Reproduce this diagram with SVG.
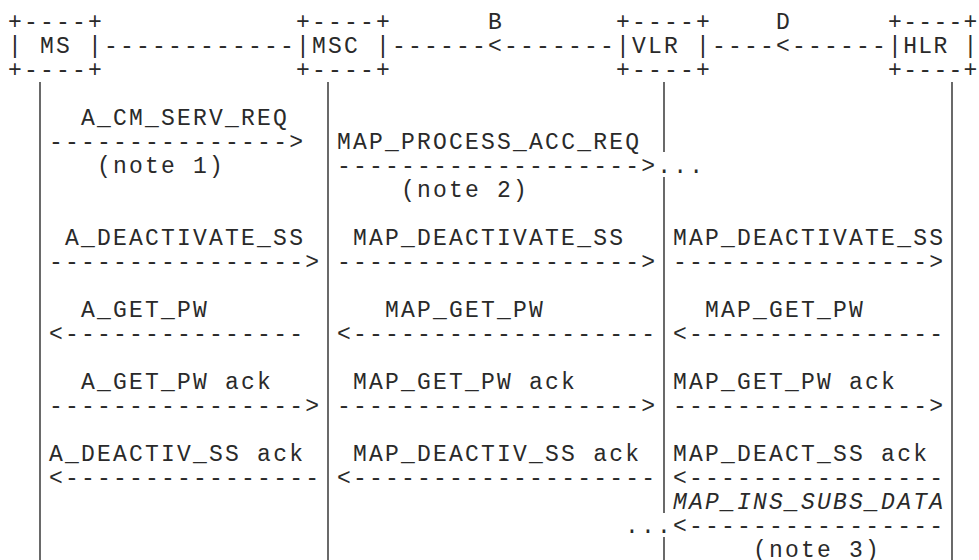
<svg xmlns="http://www.w3.org/2000/svg" width="979" height="560" viewBox="0 0 979 560" xml:space="preserve">
<style>
  text { font-family: "Liberation Mono", "DejaVu Sans Mono", monospace; font-size: 23px; letter-spacing: 2.2px; fill: #2a2a2a; white-space: pre; }
  text.hlr { letter-spacing: 1.3px; }
  .it { font-style: italic; }
  .life { stroke: #2a2a2a; stroke-width: 1.4; fill: none; }
</style>
<rect width="979" height="560" fill="#ffffff"/>

<g id="node-MS">
  <text x="8.1" y="29.3">+----+</text>
  <text x="8.1" y="53.3">| MS |</text>
  <text x="8.1" y="77.3">+----+</text>
  <line class="life" x1="40" y1="82" x2="40" y2="560"/>
</g>

<g id="node-MSC">
  <text x="296.1" y="29.3">+----+</text>
  <text x="296.1" y="53.3">|MSC |</text>
  <text x="296.1" y="77.3">+----+</text>
  <line class="life" x1="328" y1="82" x2="328" y2="560"/>
</g>

<g id="node-VLR">
  <text x="616.1" y="29.3">+----+</text>
  <text x="616.1" y="53.3">|VLR |</text>
  <text x="616.1" y="77.3">+----+</text>
  <line class="life" x1="664" y1="82" x2="664" y2="152"/>
  <line class="life" x1="664" y1="177" x2="664" y2="513"/>
  <line class="life" x1="664" y1="537" x2="664" y2="560"/>
</g>

<g id="node-HLR">
  <text class="hlr" x="888.1" y="29.3">+----+</text>
  <text class="hlr" x="888.1" y="53.3">|HLR |</text>
  <text class="hlr" x="888.1" y="77.3">+----+</text>
  <line class="life" x1="952" y1="82" x2="952" y2="560"/>
</g>

<g id="connectors">
  <!-- interfaces -->
  <text x="104.1" y="53.3">------------</text>
  <text x="488.1" y="29.3">B</text>
  <text x="392.1" y="53.3">------&lt;-------</text>
  <text x="776.1" y="29.3">D</text>
  <text x="712.1" y="53.3">----&lt;------</text>

  <!-- A_CM_SERV_REQ / MAP_PROCESS_ACC_REQ -->
  <text x="81.1" y="125.3">A_CM_SERV_REQ</text>
  <text x="49.1" y="149.3">---------------&gt;</text>
  <text x="337.1" y="149.3">MAP_PROCESS_ACC_REQ</text>
  <text x="97.1" y="173.3">(note 1)</text>
  <text x="337.1" y="173.3">-------------------&gt;...</text>
  <text x="401.1" y="197.3">(note 2)</text>

  <!-- DEACTIVATE_SS -->
  <text x="65.1" y="245.3">A_DEACTIVATE_SS</text>
  <text x="353.1" y="245.3">MAP_DEACTIVATE_SS</text>
  <text x="673.1" y="245.3">MAP_DEACTIVATE_SS</text>
  <text x="49.1" y="269.3">----------------&gt;</text>
  <text x="337.1" y="269.3">-------------------&gt;</text>
  <text x="673.1" y="269.3">----------------&gt;</text>

  <!-- GET_PW -->
  <text x="81.1" y="317.3">A_GET_PW</text>
  <text x="385.1" y="317.3">MAP_GET_PW</text>
  <text x="705.1" y="317.3">MAP_GET_PW</text>
  <text x="49.1" y="341.3">&lt;---------------</text>
  <text x="337.1" y="341.3">&lt;-------------------</text>
  <text x="673.1" y="341.3">&lt;----------------</text>

  <!-- GET_PW ack -->
  <text x="81.1" y="389.3">A_GET_PW ack</text>
  <text x="353.1" y="389.3">MAP_GET_PW ack</text>
  <text x="673.1" y="389.3">MAP_GET_PW ack</text>
  <text x="49.1" y="413.3">----------------&gt;</text>
  <text x="337.1" y="413.3">-------------------&gt;</text>
  <text x="673.1" y="413.3">----------------&gt;</text>

  <!-- DEACTIV_SS ack -->
  <text x="49.1" y="461.3">A_DEACTIV_SS ack</text>
  <text x="353.1" y="461.3">MAP_DEACTIV_SS ack</text>
  <text x="673.1" y="461.3">MAP_DEACT_SS ack</text>
  <text x="49.1" y="485.3">&lt;----------------</text>
  <text x="337.1" y="485.3">&lt;-------------------</text>
  <text x="673.1" y="485.3">&lt;----------------</text>

  <!-- INS_SUBS_DATA -->
  <text class="it" x="673.1" y="509.3">MAP_INS_SUBS_DATA</text>
  <text x="625.1" y="533.3">...&lt;----------------</text>
  <text x="753.1" y="557.3">(note 3)</text>
</g>
</svg>
